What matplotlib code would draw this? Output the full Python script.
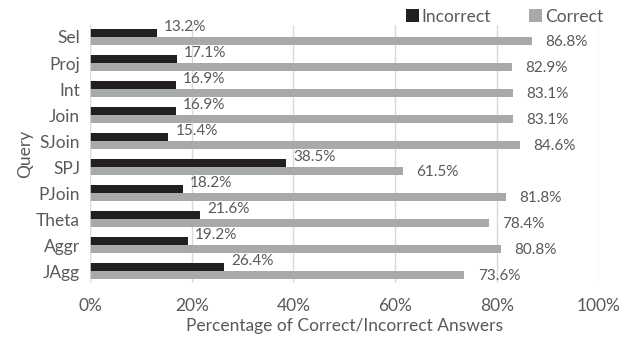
import matplotlib
matplotlib.use("Agg")
import matplotlib.pyplot as plt
import numpy as np

plt.rcParams['font.family'] = ['Lato', 'DejaVu Sans']

queries = ['Sel', 'Proj', 'Int', 'Join', 'SJoin', 'SPJ', 'PJoin', 'Theta', 'Aggr', 'JAgg']
incorrect = [13.2, 17.1, 16.9, 16.9, 15.4, 38.5, 18.2, 21.6, 19.2, 26.4]
correct = [86.8, 82.9, 83.1, 83.1, 84.6, 61.5, 81.8, 78.4, 80.8, 73.6]

dark = '#231f20'
light = '#a7a9ac'
txt = '#595959'

fig = plt.figure(figsize=(6.29, 3.43), dpi=100)
ax = fig.add_axes([0.143, 0.175, 0.809, 0.752])

y = np.arange(len(queries))
h = 0.3
ax.barh(y - h / 2, incorrect, height=h, color=dark, label='Incorrect', zorder=3)
ax.barh(y + h / 2, correct, height=h, color=light, label='Correct', zorder=3)

# value labels next to each bar
for i in range(len(queries)):
    ax.text(incorrect[i] + 1.4, y[i] - 0.38, '%.1f%%' % incorrect[i],
            fontsize=11, color=txt, va='center', ha='left')
    ax.text(correct[i] + 2.6, y[i] + 0.2, '%.1f%%' % correct[i],
            fontsize=11, color=txt, va='center', ha='left')

ax.set_xlim(0, 100)
ax.set_ylim(len(queries) - 1 + 0.46, -0.46)
ax.set_xticks(np.arange(0, 101, 20))
ax.set_xticklabels(['%d%%' % v for v in range(0, 101, 20)])
ax.set_yticks(y)
ax.set_yticklabels(queries)
ax.tick_params(axis='both', length=0, labelsize=12.5, labelcolor=txt)
ax.tick_params(axis='x', pad=11)
ax.tick_params(axis='y', pad=7)
ax.grid(axis='x', color='#d9d9d9', linewidth=1, zorder=0)
for s in ax.spines.values():
    s.set_visible(False)
ax.axvline(0, color='#d9d9d9', linewidth=1.2, zorder=4)

ax.set_xlabel('Percentage of Correct/Incorrect Answers', fontsize=12.5, color=txt, labelpad=3)
ax.set_ylabel('Query', fontsize=12.5, color=txt, labelpad=2)

ax.legend(loc='lower right', bbox_to_anchor=(1.022, 0.975), ncol=2, frameon=False,
          fontsize=12.5, labelcolor=txt, handlelength=0.75, handleheight=0.75,
          handletextpad=0.15, columnspacing=2.2, borderaxespad=0)

fig.savefig('out.png', dpi=100)
